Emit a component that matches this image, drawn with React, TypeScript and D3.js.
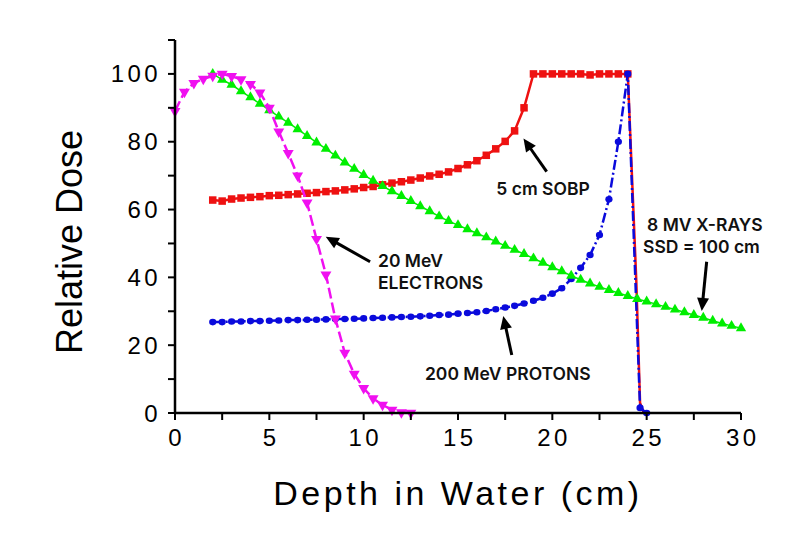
import React from 'react';
import * as d3 from 'd3';

// ---------- DATA ----------
const electronDepth = [0, 0.5, 1, 1.5, 2, 2.5, 3, 3.5, 4, 4.5, 5, 5.5, 6, 6.5, 7, 7.5, 8, 8.5, 9, 9.5, 10, 10.5, 11, 11.5, 12, 12.5];
const electronDose = [89, 94.7, 97.3, 98.5, 99.4, 100, 99.3, 98.4, 97, 94.5, 90, 83, 76.6, 70, 62, 51.3, 40.8, 27.8, 17.7, 11.5, 7.3, 4.3, 2.4, 0.9, 0.2, 0];

const xrayDepth = [2, 2.5, 3, 3.5, 4, 4.5, 5, 5.5, 6, 6.5, 7, 7.5, 8, 8.5, 9, 9.5, 10, 10.5, 11, 11.5, 12, 12.5, 13, 13.5, 14, 14.5, 15, 15.5, 16, 16.5, 17, 17.5, 18, 18.5, 19, 19.5, 20, 20.5, 21, 21.5, 22, 22.5, 23, 23.5, 24, 24.5, 25, 25.5, 26, 26.5, 27, 27.5, 28, 28.5, 29, 29.5, 30];
const xrayDose = [100, 98.3, 96.8, 94.9, 93.1, 91.2, 89.3, 87.4, 85.6, 83.7, 81.7, 79.8, 77.9, 75.9, 73.9, 72, 70.2, 68.5, 66.9, 65.4, 64, 62.5, 61, 59.5, 58, 56.6, 55.4, 54.2, 53, 51.8, 50.6, 49.3, 48.1, 46.9, 45.6, 44.3, 43, 41.8, 40.5, 39.3, 38.2, 37.2, 36.3, 35.4, 34.5, 33.6, 32.9, 32.1, 31.3, 30.5, 29.7, 28.9, 28.1, 27.2, 26.4, 25.7, 25];

const sobpDepth = [2, 2.5, 3, 3.5, 4, 4.5, 5, 5.5, 6, 6.5, 7, 7.5, 8, 8.5, 9, 9.5, 10, 10.5, 11, 11.5, 12, 12.5, 13, 13.5, 14, 14.5, 15, 15.5, 16, 16.5, 17, 17.5, 18, 18.5, 19, 19.5, 20, 20.5, 21, 21.5, 22, 22.5, 23, 23.5, 24, 24.25, 24.45, 24.65, 24.85];
const sobpDose = [62.8, 62.5, 63.1, 63.4, 63.6, 63.8, 64.1, 64.2, 64.4, 64.6, 64.8, 65, 65.3, 65.5, 65.8, 66.1, 66.5, 66.8, 67.3, 67.8, 68.2, 68.7, 69.3, 69.9, 70.4, 71.1, 72.1, 73.2, 74.4, 76, 77.9, 80.1, 83.2, 90, 100, 100, 100, 100, 100, 100, 99.7, 100, 100, 100, 100, 66, 39, 3, 0];
const sobpMarked = [true, true, true, true, true, true, true, true, true, true, true, true, true, true, true, true, true, true, true, true, true, true, true, true, true, true, true, true, true, true, true, true, true, true, true, true, true, true, true, true, true, true, true, true, true, false, false, false, false];

const protonDepth = [2, 2.5, 3, 3.5, 4, 4.5, 5, 5.5, 6, 6.5, 7, 7.5, 8, 8.5, 9, 9.5, 10, 10.5, 11, 11.5, 12, 12.5, 13, 13.5, 14, 14.5, 15, 15.5, 16, 16.5, 17, 17.5, 18, 18.5, 19, 19.5, 20, 20.5, 21, 21.5, 22, 22.5, 23, 23.5, 24, 24.65, 25];
const protonDose = [26.8, 26.8, 27.0, 27.0, 27.1, 27.1, 27.2, 27.3, 27.4, 27.4, 27.5, 27.5, 27.6, 27.7, 27.7, 27.8, 27.9, 28.0, 28.1, 28.2, 28.3, 28.4, 28.5, 28.7, 28.9, 29.0, 29.3, 29.5, 29.7, 30.1, 30.6, 31.1, 31.6, 32.3, 33.1, 34.0, 35.2, 36.8, 39.5, 42.8, 46.6, 52.5, 63, 80, 100, 1.5, 0];

const xTickValues = [0, 2.5, 5, 7.5, 10, 12.5, 15, 17.5, 20, 22.5, 25, 27.5, 30];
const xTickLabels = [0, 5, 10, 15, 20, 25, 30];
const yTickValues = [0, 10, 20, 30, 40, 50, 60, 70, 80, 90, 100, 110];
const yTickLabels = [0, 20, 40, 60, 80, 100];

const xTitle = 'Depth in Water (cm)';
const yTitle = 'Relative Dose';

// annotation labels (multi-line) and arrows, anchored in data units
const annoLabels = [
  { lines: ['5 cm SOBP'], at: [17.03, 64.3], dx: [0] },
  { lines: ['20 MeV', 'ELECTRONS'], at: [10.76, 43.1], dx: [0, 0] },
  { lines: ['200 MeV PROTONS'], at: [13.25, 9.74], dx: [0] },
  { lines: ['8 MV X-RAYS', 'SSD = 100 cm'], at: [25.02, 53.6], dx: [0, -4] },
];
const annoArrows = [
  { from: [19.7, 71.2], to: [18.47, 80.95] },
  { from: [10.34, 44.6], to: [7.99, 51.99] },
  { from: [17.85, 17.1], to: [17.4, 28.6] },
  { from: [28.18, 44.6], to: [27.92, 30.1] },
];

// ---------- CHART ----------
const W = 805;
const H = 549;
const FONT = '"Liberation Sans", Arial, sans-serif';
const ANNO_FONT = 'Inter, "Open Sans", sans-serif';

function zip(a: number[], b: number[]): [number, number][] {
  return a.map((v, i) => [v, b[i]] as [number, number]);
}

export default function App() {
  const x = d3.scaleLinear().domain([0, 30]).range([175, 741]);
  const y = d3.scaleLinear().domain([0, 110]).range([413, 40]);
  const line = d3.line<[number, number]>().x((d) => x(d[0])).y((d) => y(d[1]));

  const electrons = zip(electronDepth, electronDose);
  const xrays = zip(xrayDepth, xrayDose);
  const sobp = zip(sobpDepth, sobpDose);
  const protons = zip(protonDepth, protonDose);

  const triGreen = d3.symbol().type(d3.symbolTriangle).size(46)()!;
  const triMag = d3.symbol().type(d3.symbolTriangle).size(52)()!;

  const arrowEls = annoArrows.map((a, i) => {
    const x1 = x(a.from[0]);
    const y1 = y(a.from[1]);
    const x2 = x(a.to[0]);
    const y2 = y(a.to[1]);
    const dx = x2 - x1;
    const dy = y2 - y1;
    const len = Math.hypot(dx, dy);
    const ux = dx / len;
    const uy = dy / len;
    const hl = 13;
    const hw = 6;
    const bx = x2 - ux * hl;
    const by = y2 - uy * hl;
    const p1 = [bx - uy * hw, by + ux * hw];
    const p2 = [bx + uy * hw, by - ux * hw];
    return (
      <g key={i}>
        <line x1={x1} y1={y1} x2={bx + ux * 2} y2={by + uy * 2} stroke="#000" strokeWidth={3} />
        <polygon points={`${x2},${y2} ${p1[0]},${p1[1]} ${p2[0]},${p2[1]}`} fill="#000" />
      </g>
    );
  });

  return (
    <svg width={W} height={H} style={{ position: 'absolute', left: 0, top: 0, background: '#fff' }}>
      <rect width={W} height={H} fill="#fff" />

      {/* SOBP - red */}
      <path d={line(sobp)!} fill="none" stroke="#ee1111" strokeWidth={2.5} />
      {sobp.map((d, i) =>
        sobpMarked[i] ? (
          <rect key={'s' + i} x={x(d[0]) - 3.75} y={y(d[1]) - 3.75} width={7.5} height={7.5} fill="#ee1111" />
        ) : null
      )}

      {/* Protons - blue */}
      <path d={line(protons)!} fill="none" stroke="#0a0adc" strokeWidth={2.5} strokeDasharray="10,3,2,3" />
      {protons.map((d, i) => (
        <ellipse key={'p' + i} cx={x(d[0])} cy={y(d[1])} rx={3.6} ry={3.3} fill="#0a0adc" />
      ))}

      {/* X-rays - green */}
      <path d={line(xrays)!} fill="none" stroke="#00ee00" strokeWidth={1.5} />
      {xrays.map((d, i) => (
        <path key={'x' + i} d={triGreen} transform={`translate(${x(d[0])},${y(d[1])})`} fill="#00ee00" />
      ))}

      {/* Electrons - magenta */}
      <path d={line(electrons)!} fill="none" stroke="#f010f0" strokeWidth={2.5} strokeDasharray="11,4" />
      {electrons.map((d, i) => (
        <path key={'e' + i} d={triMag} transform={`translate(${x(d[0])},${y(d[1])}) rotate(180)`} fill="#f010f0" />
      ))}

      {/* Axes */}
      <line x1={x(0)} y1={y(0)} x2={x(30)} y2={y(0)} stroke="#000" strokeWidth={2.5} />
      <line x1={x(0)} y1={y(0)} x2={x(0)} y2={y(110)} stroke="#000" strokeWidth={2.5} />
      {xTickValues.map((v) => (
        <line key={'xt' + v} x1={x(v)} x2={x(v)} y1={y(0)} y2={y(0) + 7} stroke="#000" strokeWidth={2} />
      ))}
      {yTickValues.map((v) => (
        <line key={'yt' + v} x1={x(0) - 7} x2={x(0)} y1={y(v)} y2={y(v)} stroke="#000" strokeWidth={2} />
      ))}
      {xTickLabels.map((v) => (
        <text key={'xl' + v} x={x(v) + 1.7} y={y(0) + 33} textAnchor="middle" fontFamily={FONT} fontSize={24} letterSpacing={3.4} fill="#000">
          {v}
        </text>
      ))}
      {yTickLabels.map((v) => (
        <text key={'yl' + v} x={x(0) - 14} y={y(v) + 8.5} textAnchor="end" fontFamily={FONT} fontSize={24} letterSpacing={3.4} fill="#000">
          {v}
        </text>
      ))}

      {/* Axis titles */}
      <text x={458} y={505} textAnchor="middle" fontFamily={FONT} fontSize={34} letterSpacing={3.5} fill="#000">
        {xTitle}
      </text>
      <text transform="translate(82,242) rotate(-90)" textAnchor="middle" fontFamily={FONT} fontSize={36} fill="#000">
        {yTitle}
      </text>

      {/* Annotations */}
      {arrowEls}
      {annoLabels.map((a, i) => (
        <text key={'a' + i} x={x(a.at[0])} y={y(a.at[1])} fontFamily={ANNO_FONT} fontWeight={600} fontSize={17.5} fill="#111">
          {a.lines.map((t, j) => (
            <tspan key={j} x={x(a.at[0]) + a.dx[j]} dy={j === 0 ? 0 : 22}>
              {t}
            </tspan>
          ))}
        </text>
      ))}
    </svg>
  );
}
